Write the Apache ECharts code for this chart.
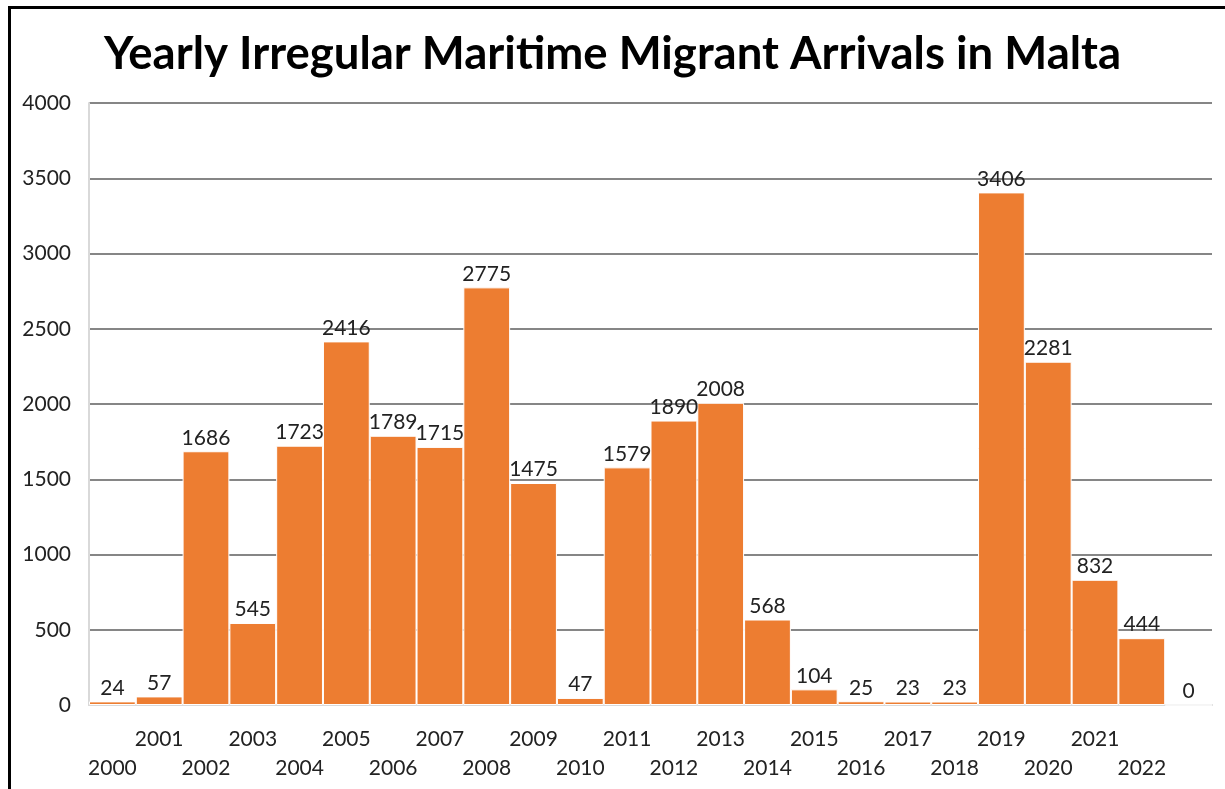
<!DOCTYPE html>
<html>
<head>
<meta charset="utf-8">
<script src="https://cdn.jsdelivr.net/npm/echarts@6/dist/echarts.min.js"></script>
<style>
  html, body { margin: 0; padding: 0; background: #fff; }
  #chart { width: 1225px; height: 789px; }
</style>
</head>
<body>
<div id="chart"></div>
<script>
// Year labels under each bar; the final bar (0 arrivals) carries no year label.
const years = ['2000','2001','2002','2003','2004','2005','2006','2007','2008','2009','2010',
  '2011','2012','2013','2014','2015','2016','2017','2018','2019','2020','2021','2022',''];
// Irregular maritime migrant arrivals per year.
const arrivals = [24, 57, 1686, 545, 1723, 2416, 1789, 1715, 2775, 1475, 47,
  1579, 1890, 2008, 568, 104, 25, 23, 23, 3406, 2281, 832, 444, 0];
const yTicks = [0, 500, 1000, 1500, 2000, 2500, 3000, 3500, 4000];

const FONT = 'Lato';
const chart = echarts.init(document.getElementById('chart'), null, { renderer: 'canvas' });

chart.setOption({
  animation: false,
  backgroundColor: '#ffffff',
  title: {
    text: 'Yearly Irregular Maritime Migrant Arrivals in Malta',
    left: 'center',
    top: 26,
    textStyle: { fontFamily: FONT, fontWeight: 'bold', fontSize: 45.5, color: '#000' }
  },
  graphic: [
    // frame edges along the left and top
    { type: 'line', shape: { x1: 9.5, y1: 6, x2: 9.5, y2: 789 }, style: { stroke: '#000', lineWidth: 3 } },
    { type: 'line', shape: { x1: 8, y1: 7.5, x2: 1225, y2: 7.5 }, style: { stroke: '#000', lineWidth: 3 } }
  ],
  grid: { left: 89, right: 13, top: 103, bottom: 84 },
  xAxis: {
    type: 'category',
    data: years,
    axisTick: { show: false },
    axisLine: { show: true, lineStyle: { color: '#d9d9d9', width: 2 } },
    axisLabel: {
      interval: 0,
      margin: 20,
      fontFamily: FONT,
      fontSize: 21,
      color: '#222',
      lineHeight: 29,
      formatter: (v, i) => (i % 2 === 0 ? '\n' + v : v)
    }
  },
  yAxis: {
    type: 'value',
    min: yTicks[0],
    max: yTicks[yTicks.length - 1],
    interval: 500,
    axisLine: { show: true, lineStyle: { color: '#d9d9d9', width: 2 } },
    axisTick: { show: false },
    axisLabel: {
      margin: 18, fontFamily: FONT, fontSize: 21, color: '#222',
      formatter: (v) => String(v)
    },
    splitLine: { show: true, lineStyle: { color: '#5e5e5e', width: 1.5 } }
  },
  series: [{
    type: 'bar',
    data: arrivals,
    barCategoryGap: '0%',
    itemStyle: { color: '#ED7D31', borderColor: '#ffffff', borderWidth: 1 },
    label: {
      show: true,
      position: 'top',
      distance: 3,
      fontFamily: FONT,
      fontSize: 21,
      color: '#222'
    }
  }]
});
</script>
</body>
</html>
